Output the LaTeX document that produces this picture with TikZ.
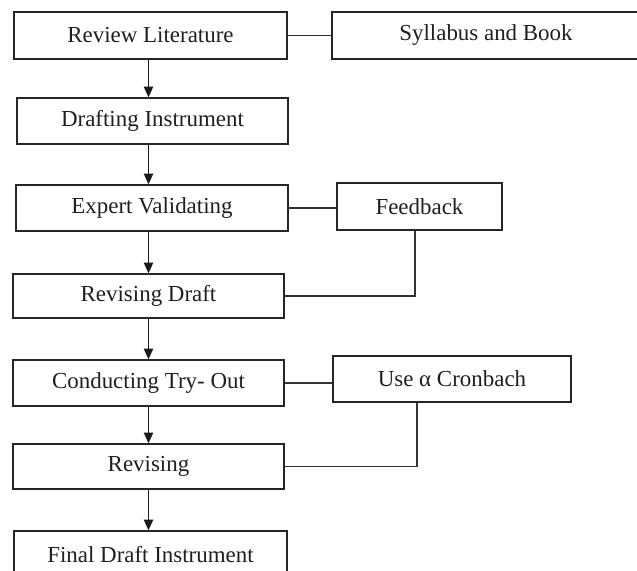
\documentclass[tikz,border=0pt]{standalone}
\usepackage{fontspec}
\setmainfont{Liberation Serif}
\usetikzlibrary{arrows.meta}
\begin{document}
\begin{tikzpicture}[x=0.75pt,y=-0.75pt,
  box/.style={draw=black!85, line width=1.1pt, rectangle, inner sep=0pt, align=center,
    font=\fontsize{17.2}{20}\selectfont, text=black!88},
  link/.style={draw=black!80, line width=1.1pt},
  arr/.style={draw=black!90, line width=1.1pt, -{Triangle[length=8pt,width=7pt]}}]
\useasboundingbox (0,0) rectangle (637,571);
\node[box, minimum width=204.75pt, minimum height=35.25pt] (rev) at (150.5,35.5) {Review Literature};
\node[box, minimum width=231pt, minimum height=35.25pt] (syl) at (486,35.5) {Syllabus and Book};
\node[box, minimum width=203.25pt, minimum height=34.5pt] (dra) at (152.5,121) {Drafting Instrument};
\node[box, minimum width=204pt, minimum height=34.5pt] (exp) at (152,208) {Expert Validating};
\node[box, minimum width=123.75pt, minimum height=35.25pt] (fee) at (419.5,206.5) {Feedback};
\node[box, minimum width=203.25pt, minimum height=33pt] (rdr) at (148.5,296) {Revising Draft};
\node[box, minimum width=203.25pt, minimum height=34.5pt] (con) at (148.5,383) {Conducting Try- Out};
\node[box, minimum width=178.5pt, minimum height=34.5pt] (cro) at (452,379) {Use α Cronbach};
\node[box, minimum width=203.25pt, minimum height=33.75pt] (rvs) at (148.5,466.5) {Revising};
\node[box, minimum width=204.75pt, minimum height=35.25pt] (fin) at (150.5,554.5) {Final Draft Instrument};
\coordinate (ax) at (148.5,0);
\coordinate (fx) at (415,0);
\coordinate (cx) at (417,0);
\draw[arr] (rev.south -| ax) -- (dra.north -| ax);
\draw[arr] (dra.south -| ax) -- (exp.north -| ax);
\draw[arr] (exp.south -| ax) -- (rdr.north -| ax);
\draw[arr] (rdr.south -| ax) -- (con.north -| ax);
\draw[arr] (con.south -| ax) -- (rvs.north -| ax);
\draw[arr] (rvs.south -| ax) -- (fin.north -| ax);
\draw[link] (rev.east) -- (syl.west);
\draw[link] (exp.east) -- (exp.east -| fee.west);
\draw[link] (con.east) -- (con.east -| cro.west);
\draw[link] (fee.south -| fx) |- (rdr.east);
\draw[link] (cro.south -| cx) |- (rvs.east);
\end{tikzpicture}
\end{document}
